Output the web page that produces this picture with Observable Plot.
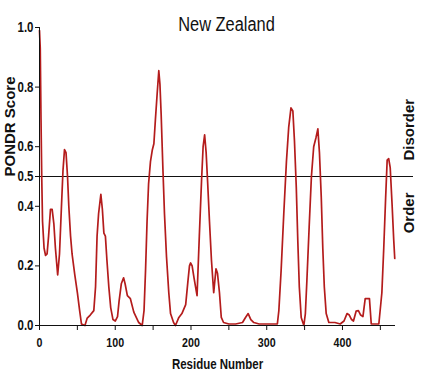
<!DOCTYPE html>
<html>
<head>
<meta charset="utf-8">
<script src="https://cdn.jsdelivr.net/npm/d3@7"></script>
<script src="https://cdn.jsdelivr.net/npm/@observablehq/plot@0.6"></script>
<style>
  html, body { margin: 0; padding: 0; background: #fff; }
</style>
</head>
<body>
<div id="chart"></div>
<script>
const title = "New Zealand";
const xLabel = "Residue Number";
const yLabel = "PONDR Score";
const upperLabel = "Disorder";
const lowerLabel = "Order";
const threshold = 0.5;

const xTicks = [0, 50, 100, 150, 200, 250, 300, 350, 400, 450];
const yTicks = [0, 0.2, 0.4, 0.5, 0.6, 0.8, 1.0];

const residues = [
  0, 1, 2, 3, 4, 6, 8, 10, 12, 14.5, 16.7, 19, 21, 24, 26.4, 29, 31, 33, 35, 37,
  38.7, 41, 43, 46.6, 50, 53, 55.4, 60, 63, 67, 71.7, 74, 76, 78, 81, 83, 85, 87, 89, 91.5,
  94, 97, 100, 103, 105, 108, 111, 113, 116, 120, 124.5, 131, 135.6, 138, 140, 142, 144, 146.5, 149, 151,
  153, 155.4, 157.5, 159, 160.6, 163, 165, 167.7, 170.7, 173, 177, 179.5, 184, 188, 193, 196, 198, 199.5, 201.5, 204,
  208, 211, 214, 216, 218, 220, 222, 224.4, 227, 230, 233, 235, 237.6, 240, 243, 250, 259, 268, 272, 275.5,
  279, 283, 290, 300, 314, 316, 319, 322.5, 326, 329, 332, 334.5, 336.6, 339, 341, 343, 345.5, 349, 351, 353,
  356, 359, 362, 365, 367.5, 369.6, 372, 374, 376, 378.5, 382, 390, 397, 402, 406, 409, 412, 414.5, 418, 421,
  424, 427, 430, 435.6, 438, 448, 452, 454.5, 457, 459, 461, 463, 465.6, 467.7, 469
];
const scores = [
  0.99, 0.93, 0.69, 0.49, 0.35, 0.26, 0.235, 0.24, 0.30, 0.39, 0.39, 0.34, 0.26, 0.17, 0.24, 0.40, 0.52, 0.59, 0.58, 0.50,
  0.40, 0.30, 0.24, 0.17, 0.11, 0.05, 0.005, 0.0, 0.025, 0.035, 0.05, 0.13, 0.30, 0.375, 0.44, 0.39, 0.31, 0.30, 0.22, 0.13,
  0.06, 0.02, 0.015, 0.03, 0.08, 0.14, 0.16, 0.14, 0.10, 0.09, 0.045, 0.01, 0.0, 0.05, 0.185, 0.35, 0.475, 0.55, 0.59, 0.61,
  0.69, 0.78, 0.855, 0.81, 0.71, 0.52, 0.375, 0.23, 0.11, 0.04, 0.01, 0.0, 0.027, 0.04, 0.07, 0.15, 0.20, 0.21, 0.20, 0.16,
  0.10, 0.30, 0.49, 0.60, 0.64, 0.58, 0.48, 0.35, 0.22, 0.11, 0.19, 0.175, 0.11, 0.027, 0.01, 0.005, 0.005, 0.01, 0.027, 0.04,
  0.02, 0.01, 0.005, 0.005, 0.005, 0.05, 0.185, 0.375, 0.55, 0.665, 0.73, 0.72, 0.62, 0.465, 0.285, 0.13, 0.027, 0.0, 0.04, 0.15,
  0.33, 0.50, 0.60, 0.63, 0.66, 0.58, 0.43, 0.26, 0.13, 0.04, 0.01, 0.01, 0.005, 0.015, 0.04, 0.035, 0.02, 0.015, 0.048, 0.05,
  0.035, 0.03, 0.09, 0.09, 0.005, 0.005, 0.11, 0.26, 0.43, 0.555, 0.56, 0.53, 0.40, 0.285, 0.225
];

const data = residues.map((r, i) => ({residue: r, score: scores[i]}));

const font = "'Liberation Sans', Arial, sans-serif";

const chart = Plot.plot({
  width: 434,
  height: 378,
  marginLeft: 39,
  marginRight: 39,
  marginTop: 27,
  marginBottom: 53,
  style: {background: "#fff", color: "#111", fontFamily: font},
  x: {domain: [0, 470]},
  y: {domain: [0, 1]},
  marks: [
    Plot.ruleY([threshold], {stroke: "#111", strokeWidth: 1, insetRight: -18}),
    Plot.lineY(data, {x: "residue", y: "score", stroke: "#b41c1c", strokeWidth: 1.7}),
    Plot.axisY({ticks: yTicks, tickFormat: d3.format(".1f"), tickSize: 4, tickPadding: 2,
      fontSize: 14, fontWeight: "bold", fontFamily: font, label: null, stroke: "#111", className: "narrow"}),
    Plot.axisX({ticks: xTicks, tickFormat: d => d % 100 === 0 ? String(d) : "", tickSize: 5, tickPadding: 7,
      fontSize: 13, fontWeight: "bold", fontFamily: font, label: null, stroke: "#111", className: "narrow"}),
    Plot.ruleX([0], {stroke: "#111"}),
    Plot.ruleY([0], {stroke: "#111"}),
    Plot.text([title], {frameAnchor: "top", dx: 9, dy: 3, lineAnchor: "bottom",
      fontSize: 20, fontFamily: font, fill: "#111", className: "narrow"}),
    Plot.text([xLabel], {frameAnchor: "bottom", dy: 43, lineAnchor: "bottom",
      fontSize: 14, fontWeight: "bold", fontFamily: font, fill: "#111", className: "narrow"}),
    Plot.text([yLabel], {frameAnchor: "left", dx: -25, rotate: -90, lineAnchor: "bottom",
      fontSize: 15, fontWeight: "bold", fontFamily: font, fill: "#111"}),
    Plot.text([{label: upperLabel, y: threshold}], {y: "y", text: "label", frameAnchor: "right", dx: 18, dy: -16,
      rotate: -90, textAnchor: "start", lineAnchor: "bottom", fontSize: 15, fontWeight: "bold", fontFamily: font, fill: "#111"}),
    Plot.text([{label: lowerLabel, y: threshold}], {y: "y", text: "label", frameAnchor: "right", dx: 18, dy: 16,
      rotate: -90, textAnchor: "end", lineAnchor: "bottom", fontSize: 15, fontWeight: "bold", fontFamily: font, fill: "#111"})
  ]
});
document.getElementById("chart").appendChild(chart);

// The reference is horizontally compressed: condense horizontal texts to ~82% width.
chart.querySelectorAll("g.narrow text, .narrow text").forEach(t => {
  const len = t.getComputedTextLength();
  if (len > 0) {
    t.setAttribute("textLength", (len * 0.82).toFixed(2));
    t.setAttribute("lengthAdjust", "spacingAndGlyphs");
  }
});
</script>
</body>
</html>
